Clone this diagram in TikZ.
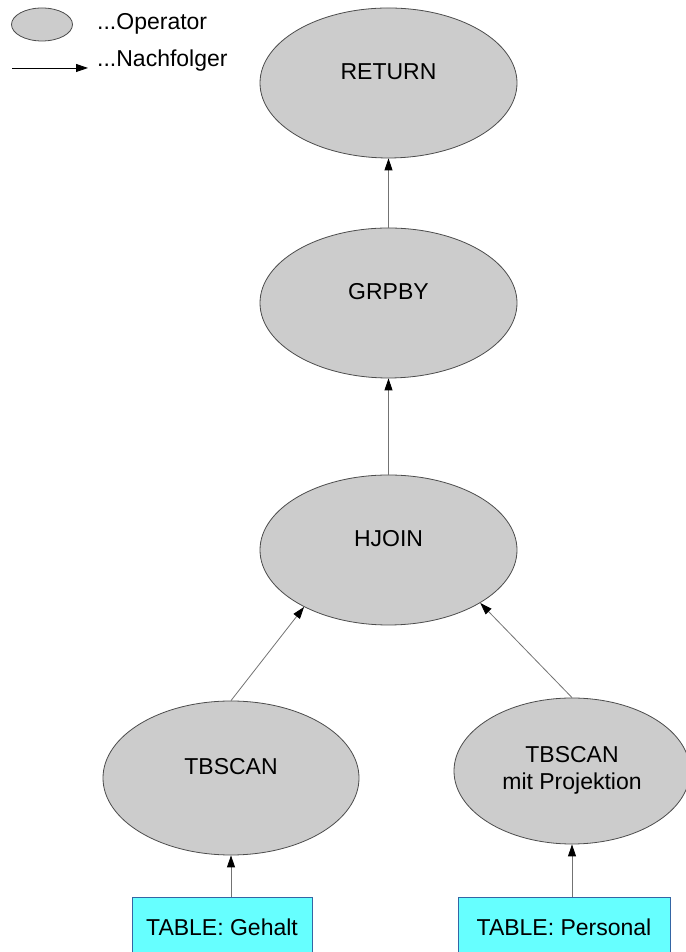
\documentclass[tikz,border=0pt]{standalone}
\usepackage{fontspec}
\setmainfont{Liberation Sans}
\usepackage{tikz}
\usetikzlibrary{shapes,arrows.meta,positioning}

\definecolor{opgray}{HTML}{CCCCCC}
\definecolor{tabcyan}{HTML}{66FFFF}
\definecolor{tabblue}{HTML}{3465A4}

\begin{document}
\begin{tikzpicture}[x=1pt, y=1pt, node distance=220pt,
  font=\fontsize{23}{27}\selectfont,
  op/.style={ellipse, draw=black!70, line width=0.8pt, fill=opgray, minimum width=257pt, minimum height=150pt, text height=16pt, text depth=22pt, align=center},
  tab/.style={rectangle, draw=tabblue, line width=0.8pt, fill=tabcyan, minimum height=60pt},
  succ/.style={draw=black!55, line width=0.8pt, -{Triangle[length=12pt,width=8pt,black]}}]
\useasboundingbox (0,0) rectangle (685,952);

% legend
\node (legop) [ellipse, draw=black!70, line width=0.8pt, fill=opgray, minimum width=61pt, minimum height=33pt, inner sep=0pt] at (42,927.5) {};
\node (legoptext) [anchor=base west, inner sep=0pt] at (97,922) {...Operator};
\coordinate (legs) at (12,884);
\coordinate (lege) at (88,884);
\node (legsucctext) [anchor=base west, inner sep=0pt] at (97,885) {...Nachfolger};
\draw [succ, draw=black] (legs) -- (lege);

% operators
\node (return) [op] at (388.5,869) {RETURN};
\node (grpby) [op, below of=return] {GRPBY};
\node (hjoin) [op, below of=grpby, yshift=-27pt] {HJOIN};
\node (scanl) [op, below of=hjoin, xshift=-157.5pt, yshift=-8pt, minimum width=256pt, minimum height=154pt] {TBSCAN};
\node (scanr) [op, right of=scanl, xshift=121pt, yshift=7pt, minimum width=236pt, minimum height=146pt, text height=38pt, text depth=0pt] {TBSCAN\\mit Projektion};

% tables
\node (gehalt) [tab, below of=scanl, xshift=-9pt, yshift=71pt, minimum width=180pt] {TABLE: Gehalt};
\node (personal) [tab, below of=scanr, xshift=-8pt, yshift=64pt, minimum width=212pt] {TABLE: Personal};

\draw [succ] (grpby) -- (return);
\draw [succ] (hjoin) -- (grpby);
\draw [succ] (scanl.north) -- (hjoin.214);
\draw [succ] (scanr.north) -- (hjoin.330);
\draw [succ] (gehalt.north -| scanl.south) -- (scanl.south);
\draw [succ] (personal.north -| scanr.south) -- (scanr.south);
\end{tikzpicture}
\end{document}
